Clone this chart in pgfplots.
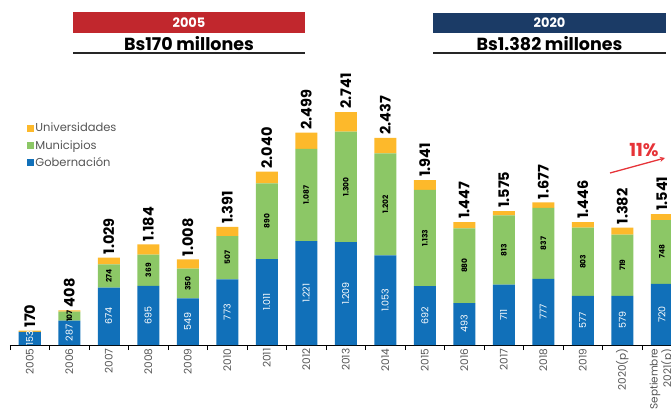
\documentclass[border=0pt]{standalone}
\usepackage{pgfplots}
\pgfplotsset{compat=1.18}
\usepackage{pgfplotstable}
\usepackage{fontspec}
\setmainfont{Poppins}
\definecolor{cgob}{HTML}{1170B9}
\definecolor{cmun}{HTML}{8CC766}
\definecolor{cuni}{HTML}{FDB92B}
\definecolor{hred}{HTML}{C1272D}
\definecolor{hnavy}{HTML}{1B3B66}
\definecolor{ared}{HTML}{E63338}
\definecolor{tgray}{HTML}{555555}
\pgfplotstableread{
x gob mun uni total
0 153 0 17 170
1 287 107 14 408
2 674 274 81 1029
3 695 369 120 1184
4 549 350 109 1008
5 773 507 111 1391
6 1011 890 139 2040
7 1221 1087 191 2499
8 1209 1300 232 2741
9 1053 1202 182 2437
10 692 1133 116 1941
11 493 880 74 1447
12 711 813 51 1575
13 777 837 63 1677
14 577 803 66 1446
15 579 719 84 1382
16 720 748 73 1541
}\data
\pgfplotsset{
  base/.style={
    at={(10pt,67pt)}, anchor=south west, scale only axis,
    width=661pt, height=255pt,
    xmin=-0.5, xmax=16.234, ymin=0, ymax=3000,
    /pgf/number format/.cd, 1000 sep={.}, assume math mode=true, /pgfplots/.cd,
  }
}
\begin{document}
\begin{tikzpicture}
\useasboundingbox (0,0) rectangle (671pt,412pt);
\begin{axis}[base,
  ybar stacked, bar width=22pt,
  axis x line*=bottom, axis y line=none,
  x axis line style={-, black, line width=0.8pt},
  xtick={0,...,16},
  xticklabels={2005,2006,2007,2008,2009,2010,2011,2012,2013,2014,2015,2016,2017,2018,2019,2020(p),{Septiembre\\2021(p)}},
  xticklabel style={rotate=90, anchor=east, align=right, font=\fontsize{10.5}{11.5}\selectfont, text=tgray},
  major tick length=0pt,
  minor xtick={-0.5,0.5,...,15.5},
  minor tick length=5pt, tick align=outside,
  minor tick style={black, line width=0.8pt},
  ytick=\empty,
  legend image code/.code={\fill[#1] (0pt,-3.5pt) rectangle (7pt,3.5pt);},
  reverse legend,
  legend style={at={(0.026,0.875)}, anchor=north west, draw=none, fill=none,
    font=\fontsize{11.5}{12.5}\selectfont, text=tgray, row sep=5pt, inner sep=0pt,
    nodes={inner sep=1pt}},
  legend cell align=left,
]
\addplot[fill=cgob, draw=none] table[x=x,y=gob]{\data};
\addplot[fill=cmun, draw=none] table[x=x,y=mun]{\data};
\addplot[fill=cuni, draw=none] table[x=x,y=uni]{\data};
\legend{Gobernación,Municipios,Universidades}
\end{axis}
\begin{axis}[base, hide axis, clip=false]
\addplot[draw=none, mark=none, nodes near coords, point meta=explicit,
  every node near coord/.style={rotate=90, anchor=center, text=white, font=\fontsize{9.5}{10}\selectfont}]
  table[x=x, y expr=\thisrow{gob}/2, meta=gob]{\data};
\addplot[draw=none, mark=none, nodes near coords, point meta=explicit,
  skip coords between index={0}{1},
  every node near coord/.style={rotate=90, anchor=center, text=black, font=\fontsize{7.5}{8}\selectfont\bfseries}]
  table[x=x, y expr=\thisrow{gob}+\thisrow{mun}/2, meta=mun]{\data};
\addplot[draw=none, mark=none, nodes near coords, point meta=explicit,
  every node near coord/.style={rotate=90, anchor=west, text=black, inner sep=3pt, font=\fontsize{14.5}{15}\selectfont\bfseries}]
  table[x=x, y=total, meta=total]{\data};
\end{axis}
% headers
\fill[hred] (73pt,379pt) rectangle (305pt,400pt);
\node[text=white, font=\fontsize{13}{14}\selectfont\bfseries] at (189pt,389.5pt) {2005};
\node[font=\fontsize{17.5}{18}\selectfont\bfseries] at (189pt,368pt) {Bs170 millones};
\draw[black!85, line width=1.4pt] (73pt,359pt) -- (305pt,359pt);
\fill[hnavy] (433pt,379pt) rectangle (666pt,399pt);
\node[text=white, font=\fontsize{13}{14}\selectfont\bfseries] at (549.5pt,389pt) {2020};
\node[font=\fontsize{17.5}{18}\selectfont\bfseries] at (549.5pt,368pt) {Bs1.382 millones};
\draw[black!85, line width=1.4pt] (433pt,359pt) -- (666pt,359pt);
% growth annotation
\node[text=ared, font=\fontsize{18}{19}\selectfont\bfseries] at (644pt,262pt) {11\%};
\draw[ared, line width=1.3pt, -stealth] (610pt,239pt) -- (665pt,254pt);
\end{tikzpicture}
\end{document}
